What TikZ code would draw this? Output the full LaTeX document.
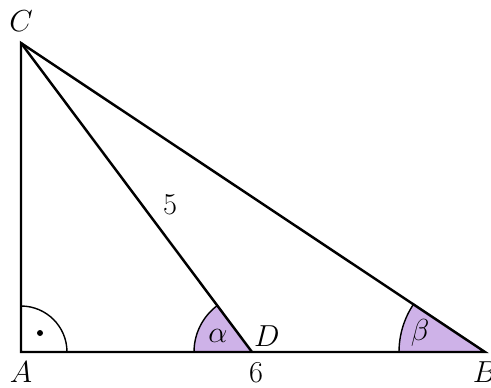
\documentclass[tikz,border=0pt]{standalone}
\usepackage{amsmath,amssymb}
\usepackage{tikz}
\usepackage{xcolor}
\usetikzlibrary{positioning,angles,calc}

\definecolor{anglefill}{RGB}{206,178,232}

\tikzset{
  side/.style={line width=1.4pt, line join=miter},
  lab/.style={font=\fontsize{17}{19}\selectfont, inner sep=0pt},
  anglemark/.style={draw, line width=0.8pt, fill=anglefill},
}

\begin{document}
\begin{tikzpicture}[x=0.02cm,y=-0.02cm]
  \useasboundingbox (0,0) rectangle (491,387);
  % vertices
  \coordinate (A) at (21,352);
  \coordinate (B) at (485,352);
  \coordinate (C) at (21,43);
  \coordinate (D) at (252,352);
  % angle marks
  \pic[draw, line width=0.8pt, angle radius=0.92cm] {angle = B--A--C};
  \pic[anglemark, angle radius=1.16cm] {angle = C--D--A};
  \pic[anglemark, angle radius=1.72cm] {angle = C--B--A};
  \fill (40,333) circle (3);
  % triangle
  \draw[side] (A) -- (B) -- (C) -- cycle;
  \draw[side] (C) -- (D);
  % labels
  \node[lab] (labC) at (21,21) {$C$};
  \node[lab] (labA) at (21,372) {$A$};
  \node[lab] (labB) at (485,372) {$B$};
  \node[lab] (labD) at (267,336) {$D$};
  \node[lab] (labSix) at (256,373) {$6$};
  \node[lab] (labFive) at (170,205) {$5$};
  \node[lab] (labAlpha) at (218,336) {$\alpha$};
  \node[lab] (labBeta) at (420,333) {$\beta$};
\end{tikzpicture}
\end{document}
